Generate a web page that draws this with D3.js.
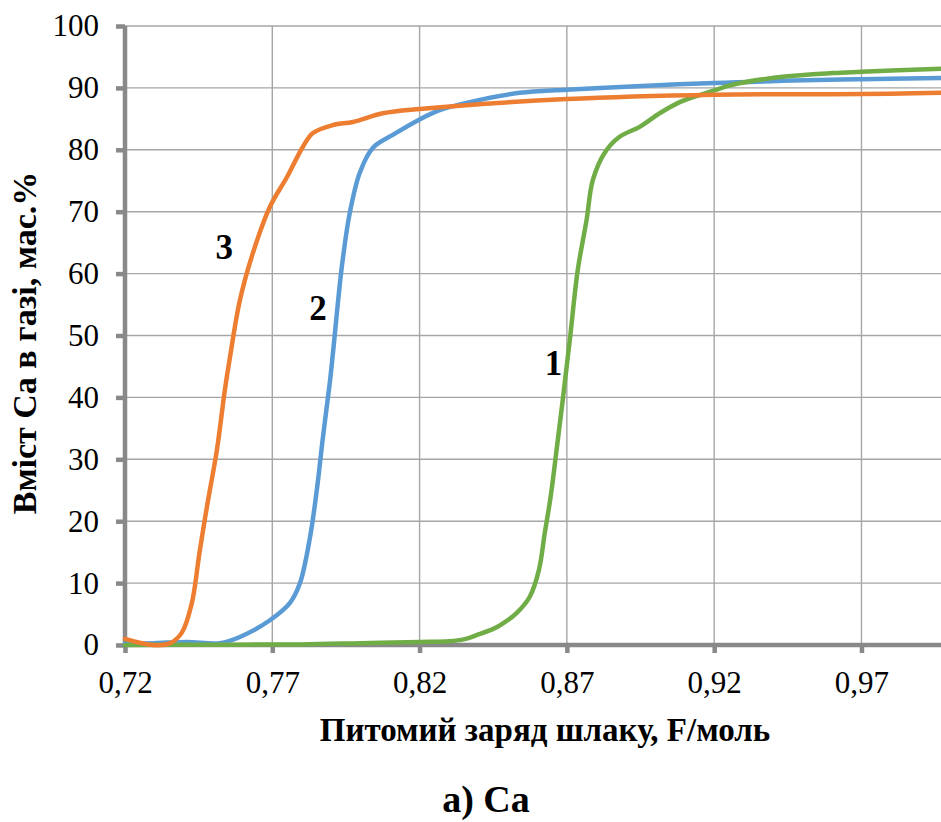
<!DOCTYPE html>
<html>
<head>
<meta charset="utf-8">
<script src="https://cdn.jsdelivr.net/npm/d3@7"></script>
<style>
  body { margin: 0; background: #fff; }
</style>
</head>
<body>
<div id="chart"></div>
<script>
// tick values
var xTicks = [0.72, 0.77, 0.82, 0.87, 0.92, 0.97];
var yTicks = [0, 10, 20, 30, 40, 50, 60, 70, 80, 90, 100];

// series 1 (green)
var x1 = [0.72, 0.75, 0.78, 0.80, 0.82, 0.83, 0.835, 0.84, 0.845, 0.8474, 0.853, 0.8574, 0.8605, 0.8625, 0.8645, 0.8665, 0.8686, 0.871, 0.8737, 0.8767, 0.8788, 0.8828, 0.8879, 0.8947, 0.9015, 0.9083, 0.9161, 0.92, 0.9262, 0.9432, 0.9602, 0.97, 0.997];
var y1 = [0, 0.05, 0.1, 0.3, 0.5, 0.6, 0.9, 1.7, 2.6, 3.2, 5.2, 7.8, 12.1, 18.1, 24.0, 31.5, 39.6, 49.3, 60.6, 68.7, 75.1, 79.5, 82.1, 83.7, 85.9, 87.7, 89.0, 89.6, 90.5, 91.8, 92.4, 92.6, 93.1];

// series 2 (blue)
var x2 = [0.72, 0.73, 0.741, 0.7522, 0.759, 0.7692, 0.776, 0.7794, 0.7828, 0.7851, 0.7872, 0.7895, 0.7906, 0.7936, 0.7963, 0.7997, 0.8041, 0.8109, 0.82, 0.8268, 0.837, 0.854, 0.87, 0.92, 0.97, 0.997];
var y2 = [0.2, 0.3, 0.5, 0.3, 1.3, 4.0, 6.8, 10.0, 17.4, 25.0, 33.6, 42.3, 47.2, 61.1, 69.8, 76.3, 80.3, 82.4, 84.9, 86.4, 87.7, 89.2, 89.7, 90.8, 91.4, 91.6];

// series 3 (orange)
var x3 = [0.72, 0.7295, 0.7353, 0.7393, 0.7427, 0.7454, 0.7482, 0.7512, 0.7539, 0.7556, 0.759, 0.7634, 0.7692, 0.775, 0.7804, 0.7838, 0.7906, 0.7974, 0.8075, 0.82, 0.87, 0.92, 0.97, 0.997];
var y3 = [1.0, 0.0, 0.3, 2.0, 6.8, 15.3, 23.4, 31.5, 41.2, 46.4, 55.7, 63.3, 70.8, 75.6, 80.5, 82.7, 84.0, 84.5, 85.9, 86.6, 88.2, 88.9, 89.0, 89.2];

var seriesNames = ['1', '2', '3'];
var seriesColors = ['#70ad47', '#5b9bd5', '#ed7d31'];

var FONT = 'Liberation Serif';
var W = 941, H = 822;
var svg = d3.select('#chart').append('svg')
  .attr('width', W)
  .attr('height', H);

var x = d3.scaleLinear().domain([0.72, 0.997]).range([125, 941]);
var y = d3.scaleLinear().domain([0, 100]).range([645, 26]);

var fmt = function(d){ return d3.format('.2f')(d).replace('.', ','); };

// gridlines
svg.append('g').selectAll('line')
  .data(yTicks.filter(function(d){ return d > 0; }))
  .enter().append('line')
  .attr('x1', 125).attr('x2', 941)
  .attr('y1', function(d){ return y(d); })
  .attr('y2', function(d){ return y(d); })
  .attr('stroke', '#a6a6a6').attr('stroke-width', 1.4);

svg.append('g').selectAll('line')
  .data(xTicks.slice(1))
  .enter().append('line')
  .attr('x1', function(d){ return x(d); })
  .attr('x2', function(d){ return x(d); })
  .attr('y1', 26).attr('y2', 645)
  .attr('stroke', '#a6a6a6').attr('stroke-width', 1.4);

// axes
var yAxis = d3.axisLeft(y).tickValues(yTicks).tickSize(9).tickPadding(17);
var xAxis = d3.axisBottom(x).tickValues(xTicks).tickSize(8).tickPadding(18).tickFormat(fmt);

var gy = svg.append('g').attr('transform', 'translate(125,0)').call(yAxis);
var gx = svg.append('g').attr('transform', 'translate(0,645)').call(xAxis);

[gx, gy].forEach(function(g){
  g.select('.domain').remove();
  g.selectAll('.tick line').attr('stroke', '#898989').attr('stroke-width', 4.5);
  g.selectAll('.tick text')
    .attr('fill', '#000')
    .style('font-family', FONT)
    .style('font-size', '31px');
});

svg.append('line').attr('x1', 125).attr('x2', 125).attr('y1', 26).attr('y2', 647)
  .attr('stroke', '#898989').attr('stroke-width', 4.5);
svg.append('line').attr('x1', 123).attr('x2', 941).attr('y1', 645).attr('y2', 645)
  .attr('stroke', '#898989').attr('stroke-width', 4.5);

// lines
var line = d3.line()
  .x(function(d){ return x(d[0]); })
  .y(function(d){ return y(d[1]); })
  .curve(d3.curveCatmullRom.alpha(0.5));

var data = [d3.zip(x1, y1), d3.zip(x2, y2), d3.zip(x3, y3)];
var order = [1, 0, 2];
order.forEach(function(i){
  svg.append('path')
    .attr('d', line(data[i]))
    .attr('fill', 'none')
    .attr('stroke', seriesColors[i])
    .attr('stroke-width', 4.5)
    .attr('stroke-linejoin', 'round')
    .attr('stroke-linecap', 'round');
});

// series labels
var labelPos = [[0.8655, 45.6], [0.7855, 54.4], [0.7537, 64.3]];
labelPos.forEach(function(p, i){
  svg.append('text')
    .attr('x', x(p[0])).attr('y', y(p[1]))
    .attr('text-anchor', 'middle')
    .attr('dy', '0.34em')
    .style('font-family', FONT)
    .style('font-size', '35px').style('font-weight', 'bold')
    .text(seriesNames[i]);
});

// axis titles
svg.append('text')
  .attr('x', 545).attr('y', 741)
  .attr('text-anchor', 'middle')
  .style('font-family', FONT)
  .style('font-size', '33px').style('font-weight', 'bold')
  .text('Питомий заряд шлаку, F/моль');

svg.append('text')
  .attr('transform', 'translate(36,343) rotate(-90)')
  .attr('text-anchor', 'middle')
  .style('font-family', FONT)
  .style('font-size', '34px').style('font-weight', 'bold')
  .text('Вміст Са в газі, мас.%');

svg.append('text')
  .attr('x', 486).attr('y', 812)
  .attr('text-anchor', 'middle')
  .style('font-family', FONT)
  .style('font-size', '38px').style('font-weight', 'bold')
  .text('а) Са');
</script>
</body>
</html>
